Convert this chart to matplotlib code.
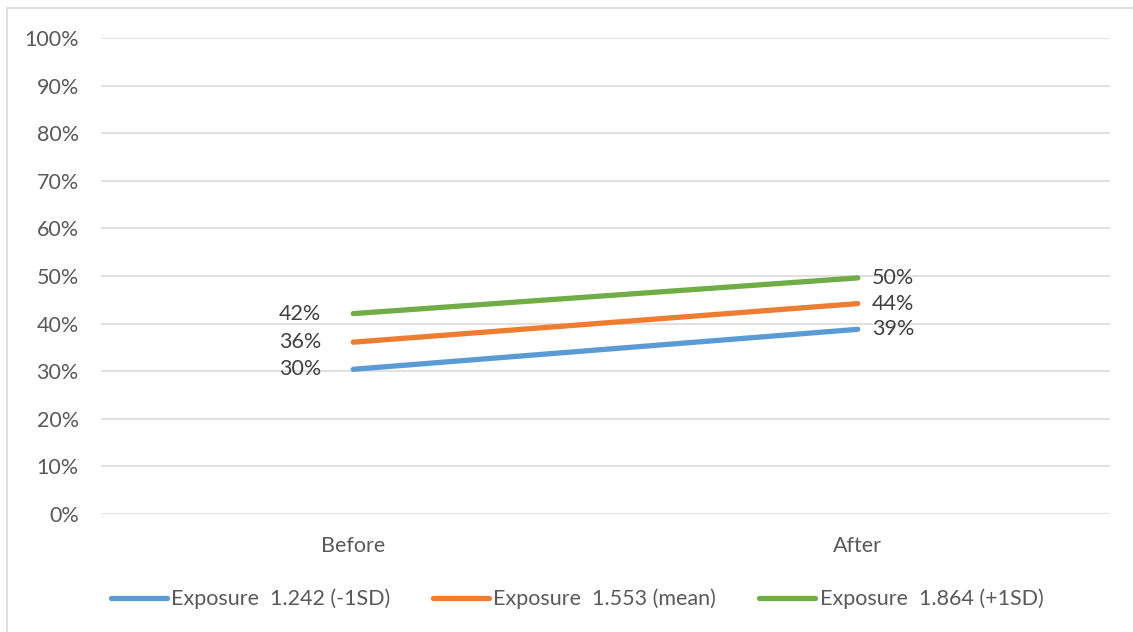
import matplotlib
matplotlib.use("Agg")
import matplotlib.pyplot as plt
from matplotlib.patches import Rectangle
from matplotlib.ticker import PercentFormatter, FixedLocator

plt.rcParams['font.family'] = ['Lato', 'DejaVu Sans']

categories = ["Before", "After"]
series_names = ["Exposure  1.242 (-1SD)", "Exposure  1.553 (mean)", "Exposure  1.864 (+1SD)"]
low_values = [0.304, 0.388]
mean_values = [0.361, 0.442]
high_values = [0.421, 0.496]
series_values = [low_values, mean_values, high_values]
colors = ["#5B9BD5", "#ED7D31", "#70AD47"]
y_ticks = [0.0, 0.1, 0.2, 0.3, 0.4, 0.5, 0.6, 0.7, 0.8, 0.9, 1.0]

W, H = 1133, 632
fig = plt.figure(figsize=(W / 100, H / 100), dpi=100)
fig.patch.set_facecolor("white")

# chart frame
fig.patches.append(Rectangle((7 / W, -0.05), 1.1, 1 - 8 / H + 0.05, transform=fig.transFigure,
                             fill=False, edgecolor="#d9d9d9", linewidth=1.2))

left, right, top, bottom = 101, 1110, 38, 514
ax = fig.add_axes([left / W, 1 - bottom / H, (right - left) / W, (bottom - top) / H])

fs = 15.5
text_color = "#595959"
x = list(range(len(categories)))
for name, vals, col in zip(series_names, series_values, colors):
    ax.plot(x, vals, color=col, linewidth=3.8, solid_capstyle="round", label=name, zorder=3)
    ax.annotate(f"{vals[0]:.0%}", (x[0], vals[0]), xytext=(-23, 0), textcoords="offset points",
                ha="right", va="center", fontsize=fs, color="#404040")
    ax.annotate(f"{vals[1]:.0%}", (x[1], vals[1]), xytext=(10, 0), textcoords="offset points",
                ha="left", va="center", fontsize=fs, color="#404040")

ax.set_xlim(-0.5, 1.5)
ax.set_ylim(0, 1)
ax.yaxis.set_major_locator(FixedLocator(y_ticks))
ax.yaxis.set_major_formatter(PercentFormatter(1.0, decimals=0))
ax.set_xticks(x)
ax.set_xticklabels(categories)
ax.grid(axis="y", color="#d9d9d9", linewidth=1.1, zorder=0)
ax.set_axisbelow(True)
for s in ax.spines.values():
    s.set_visible(False)
ax.tick_params(axis="both", length=0, labelsize=fs, labelcolor=text_color)
ax.tick_params(axis="y", pad=16)
ax.tick_params(axis="x", pad=16)

handles, labels = ax.get_legend_handles_labels()
fig.legend(handles, labels, loc="center", bbox_to_anchor=(577 / W, 1 - 599 / H), ncol=3,
           frameon=False, fontsize=fs, labelcolor=text_color, handlelength=2.6,
           handletextpad=0.2, columnspacing=2.0)

fig.savefig("out.png", dpi=100, facecolor="white")
